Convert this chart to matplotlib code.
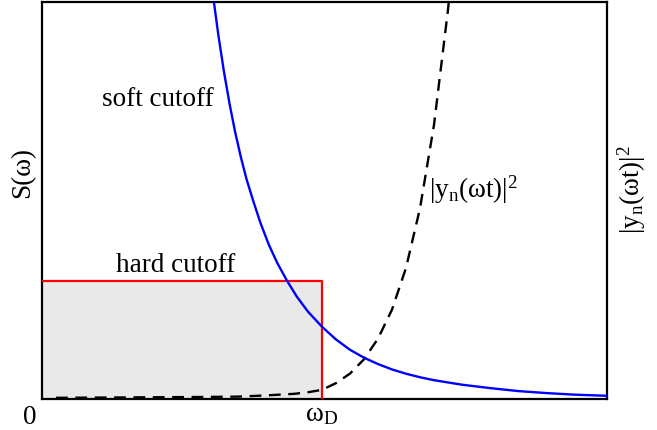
import matplotlib
matplotlib.use("Agg")
import matplotlib.pyplot as plt

plt.rcParams['font.family'] = ['Liberation Serif', 'DejaVu Serif']
plt.rcParams['mathtext.fontset'] = 'custom'
plt.rcParams['mathtext.rm'] = 'Liberation Serif'
plt.rcParams['mathtext.it'] = 'Liberation Serif:italic'

# soft cutoff spectrum, omega in units of omega_D
soft_x = [0.614, 0.63, 0.65, 0.67, 0.69, 0.71, 0.73, 0.754, 0.78, 0.81, 0.84, 0.875,
          0.91, 0.95, 1.00, 1.05, 1.10, 1.15, 1.20, 1.25, 1.30, 1.35, 1.40, 1.50,
          1.60, 1.70, 1.80, 1.90, 2.02]
soft_y = [1.0, 0.916, 0.824, 0.743, 0.672, 0.610, 0.555, 0.500, 0.444, 0.389, 0.343, 0.298,
          0.258, 0.220, 0.182, 0.150, 0.124, 0.104, 0.088, 0.0745, 0.0637, 0.0548, 0.0474, 0.036,
          0.0275, 0.020, 0.015, 0.011, 0.008]

# hard cutoff spectrum
hard_x = [0.0, 1.0, 1.0]
hard_y = [0.297, 0.297, 0.0]

# |y_n(omega t)|^2
yn_x = [0.05, 0.30, 0.55, 0.70, 0.80, 0.90, 0.95, 1.00, 1.05, 1.10, 1.15, 1.20,
        1.25, 1.30, 1.35, 1.40, 1.45, 1.46]
yn_y = [0.003, 0.004, 0.005, 0.006, 0.009, 0.013, 0.017, 0.023, 0.040, 0.064, 0.100, 0.152,
        0.225, 0.330, 0.480, 0.690, 0.98, 1.05]

fig = plt.figure(figsize=(6.57, 4.31), dpi=100)
ax = fig.add_axes([42/657, 31/431, 565/657, 397/431])
ax.set_xlim(0, 2.018)
ax.set_ylim(0, 1.0)

ax.fill_between(hard_x[:2], [0, 0], hard_y[:2], facecolor='#e9e9e9', edgecolor='none', zorder=1)
ax.plot(hard_x, hard_y, color='#ff0000', lw=1.6, zorder=3)
ax.plot(soft_x, soft_y, color='#0000ff', lw=1.7, zorder=3)
ax.plot(yn_x, yn_y, color='black', lw=1.7, dashes=(5.0, 3.2), zorder=2)

for s in ax.spines.values():
    s.set_linewidth(1.6)
ax.set_xticks([])
ax.set_yticks([])

fs = 19.5
ax.text(0.414, 0.756, 'soft cutoff', fontsize=fs, ha='center', va='center')
ax.text(0.479, 0.34, 'hard cutoff', fontsize=fs, ha='center', va='center')
ax.text(1.54, 0.53, r'$|\mathrm{y}_\mathrm{n}(\mathrm{\omega t})|^2$', fontsize=fs, ha='center', va='center')

fig.text(30/657, 1 - 418/431, '0', fontsize=fs, ha='center', va='center')
fig.text(322/657, 1 - 415/431, r'$\mathrm{\omega}_\mathrm{D}$', fontsize=fs, ha='center', va='center')
fig.text(23/657, 1 - 173/431, 'S(ω)', fontsize=fs, ha='center', va='center', rotation=90)
fig.text(632/657, 1 - 190/431, r'$|\mathrm{y}_\mathrm{n}(\mathrm{\omega t})|^2$', fontsize=fs,
         ha='center', va='center', rotation=90)

fig.savefig('out.png', dpi=100)
